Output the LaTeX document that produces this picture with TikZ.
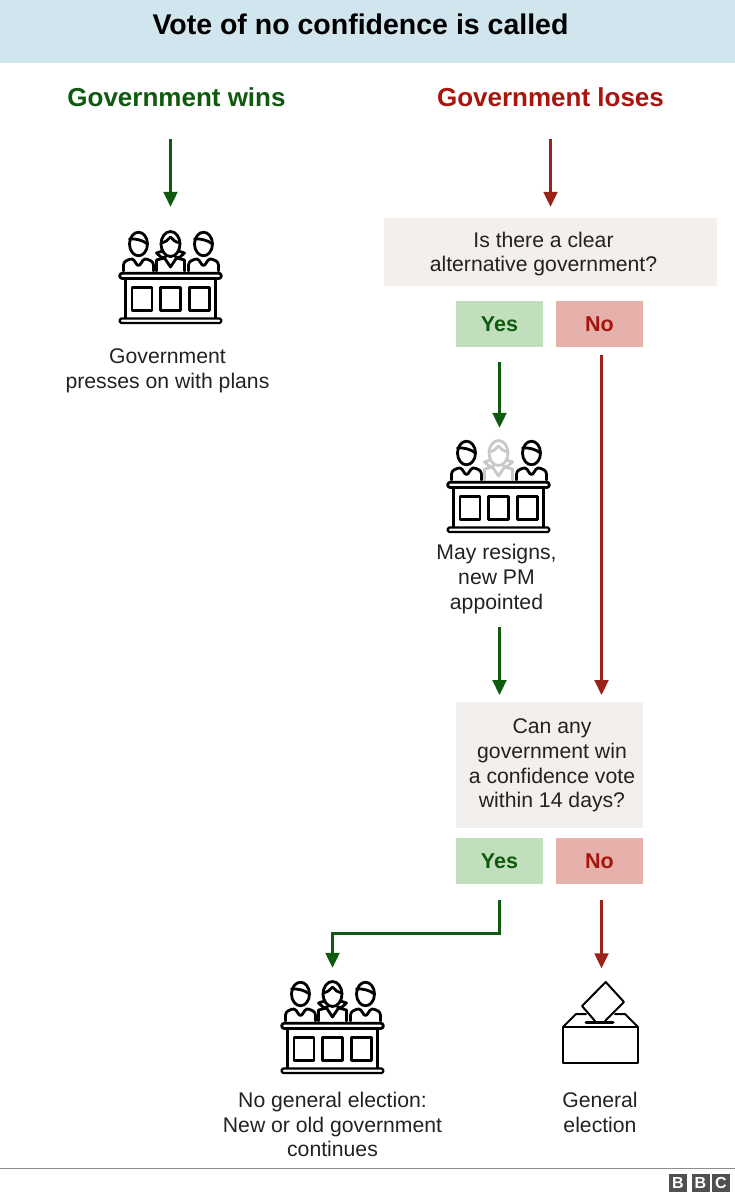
\documentclass[tikz,border=0pt]{standalone}
\usepackage{fontspec}
\setmainfont{Liberation Sans}
\usetikzlibrary{arrows.meta}
\definecolor{bandblue}{HTML}{D0E5ED}
\definecolor{boxgrey}{HTML}{F3EFEC}
\definecolor{yesfill}{HTML}{C1DFBD}
\definecolor{nofill}{HTML}{E5B1AA}
\definecolor{wingreen}{HTML}{0F5A0F}
\definecolor{loseredtext}{HTML}{A8140E}
\definecolor{losered}{HTML}{9C2118}
\definecolor{inktext}{HTML}{222222}
\definecolor{fadedgrey}{HTML}{C9C9C9}
\definecolor{logogrey}{HTML}{505050}
\tikzset{
  plain/.style={font=\fontsize{21.2}{24.8}\selectfont,align=center,inner sep=0pt,text=inktext},
  heading/.style={font=\fontsize{26}{30}\bfseries\selectfont,inner sep=0pt,text height=19pt,text depth=6pt},
  question/.style={fill=boxgrey,minimum height=#1,inner sep=0pt},
  yesbox/.style={fill=yesfill,text=wingreen,font=\fontsize{21.5}{24}\bfseries\selectfont,minimum width=87pt,minimum height=46pt,inner sep=0pt},
  nobox/.style={fill=nofill,text=loseredtext,font=\fontsize{21.5}{24}\bfseries\selectfont,minimum width=87pt,minimum height=46pt,inner sep=0pt},
  frame/.style={minimum width=#1,minimum height=95pt,inner sep=0pt},
  goarrow/.style={draw=wingreen,line width=2.2pt,-{Stealth[length=15pt,width=14pt,inset=0pt]}},
  stoparrow/.style={draw=losered,line width=2.2pt,-{Stealth[length=15pt,width=14pt,inset=0pt]}},
  icon/.style={line width=2.8pt,line join=round,line cap=round},
  logobox/.style={fill=logogrey,text=white,font=\fontsize{16}{16}\bfseries\selectfont,minimum width=18pt,minimum height=18pt,inner sep=0pt},
  pics/manjuror/.style={code={
    \draw[icon,#1] (0,-28) ellipse [x radius=9,y radius=11.8];
    \draw[icon,#1] (-9,-33) .. controls (-3,-33.5) and (4,-32) .. (9,-28);
    \draw[icon,#1,rounded corners=3pt] (-15,-1) -- (-15,-10) -- (-6,-14) -- (0,-5) -- (6,-14) -- (15,-10) -- (15,-1);
  }},
  pics/womanjuror/.style={code={
    \draw[icon,#1] (0,-28) ellipse [x radius=9.5,y radius=12.5];
    \draw[icon,#1] (-9.5,-29) .. controls (-5,-30) and (-2,-32) .. (0,-35) .. controls (2,-32) and (5,-30) .. (9.5,-29);
    \draw[icon,#1] (-8,-21) -- (-14,-19) -- (-9,-14.5) -- (-5,-15);
    \draw[icon,#1] (8,-21) -- (14,-19) -- (9,-14.5) -- (5,-15);
    \draw[icon,#1] (-14,-1) -- (-14,-12) -- (-6,-14) -- (0,-5) -- (6,-14) -- (14,-12) -- (14,-1);
  }},
  pics/bench/.style={code={
    \pic at (-32,0) {manjuror=black};
    \pic at (0,0) {womanjuror=#1};
    \pic at (33,0) {manjuror=black};
    \draw[icon,rounded corners=2.5pt,fill=white] (-50.8,1.2) rectangle (50.8,6.5);
    \draw[icon] (-45.3,6.5) -- (-45.3,46.5);
    \draw[icon] (45.3,6.5) -- (45.3,46.5);
    \draw[icon,line width=2.2pt,rounded corners=1.5pt,fill=white] (-50.8,46.5) rectangle (50.8,51);
    \draw[icon] (-38.5,15.2) rectangle (-18.5,38.5);
    \draw[icon] (-10,15.2) rectangle (10.3,38.5);
    \draw[icon] (19,15.2) rectangle (39,38.5);
  }}
}
\begin{document}
\begin{tikzpicture}[x=1pt,y=-1pt]
  \useasboundingbox (0,0) rectangle (735,1194);
  \fill[fill=bandblue] (0,0) rectangle (735,63);
  \node (titlelabel) [inner sep=0pt,font=\fontsize{28.5}{32}\bfseries\selectfont,text=black] at (360.5,24) {Vote of no confidence is called};

  \node (winslabel) [heading,text=wingreen,anchor=base] at (176.5,106) {Government wins};
  \node (loseslabel) [heading,text=loseredtext,anchor=base] at (550.5,106) {Government loses};

  \node (benchwins) [frame=104pt] at (170.5,278.5) {};
  \pic at (170.5,272) {bench=black};
  \node (winstext) [plain] at (167.5,371) {Government\\presses on with plans};

  \node (firstq) [question=68pt,minimum width=333pt] at (550,252) {};
  \node (firstqtext) [plain] at (543.5,254) {Is there a clear\\alternative government?};
  \node (firstyes) [yesbox] at (499.5,324) {Yes};
  \node (firstno) [nobox] at (599.5,324) {No};

  \node (benchmay) [frame=104pt] at (499.5,487.5) {};
  \pic at (498.5,481) {bench=fadedgrey};
  \node (maytext) [plain] at (496.5,579) {May resigns,\\new PM\\appointed};

  \node (secondq) [question=126pt,minimum width=187pt] at (549.5,765) {};
  \node (secondqtext) [plain] at (552,765.5) {Can any\\government win\\a confidence vote\\within 14 days?};
  \coordinate (secondqleft) at (499.5,702);
  \coordinate (secondqright) at (601.5,702);
  \node (secondyes) [yesbox] at (499.5,861) {Yes};
  \node (secondno) [nobox] at (599.5,861) {No};

  \node (benchold) [frame=104pt] at (332.5,1028.5) {};
  \pic at (332.5,1022) {bench=black};
  \node (oldtext) [plain] at (332.5,1124.5) {No general election:\\New or old government\\continues};

  \node (ballot) [frame=76pt] at (601.5,1029) {};
  \draw[icon,line width=2pt] (563,1027) rectangle (638,1063);
  \draw[icon,line width=2pt] (563,1027) -- (576,1014) -- (586,1014);
  \draw[icon,line width=2pt] (615,1014) -- (625,1014) -- (638,1027);
  \draw[icon,line width=2pt] (595,1021) -- (582,1006) -- (605.7,982) -- (624,1002) -- (605,1021);
  \draw[icon,line width=3pt] (586,1022) -- (613,1022);
  \node (ballottext) [plain] at (600,1112.5) {General\\election};

  \coordinate (oldturn) at (415,933.5);
  \begin{scope}
    \draw[goarrow,shorten <=27pt,shorten >=24pt] (winslabel.south -| benchwins) -- (benchwins.north);
    \draw[stoparrow,shorten <=27pt,shorten >=11pt] (loseslabel.south) -- (loseslabel.south |- firstq.north);
    \draw[goarrow,shorten <=15pt,shorten >=12pt] (firstyes.south) -- (firstyes.south |- benchmay.north);
    \draw[stoparrow,shorten <=8pt,shorten >=7pt] (firstno.south -| secondqright) -- (secondqright);
    \draw[goarrow,shorten <=13pt,shorten >=7pt] (maytext.south -| secondqleft) -- (secondqleft);
    \draw[goarrow,shorten <=16pt,shorten >=13pt] (secondyes.south) |- (oldturn) -| (benchold.north);
    \draw[stoparrow,shorten <=16pt,shorten >=13pt] (secondno.south -| ballot) -- (ballot.north);
  \end{scope}

  \draw[draw=black!45,line width=1pt] (0,1168) -- (735,1168);
  \node (logob) [logobox] at (678,1183) {B};
  \node (logobb) [logobox] at (700.5,1183) {B};
  \node (logoc) [logobox] at (721,1183) {C};
\end{tikzpicture}
\end{document}
